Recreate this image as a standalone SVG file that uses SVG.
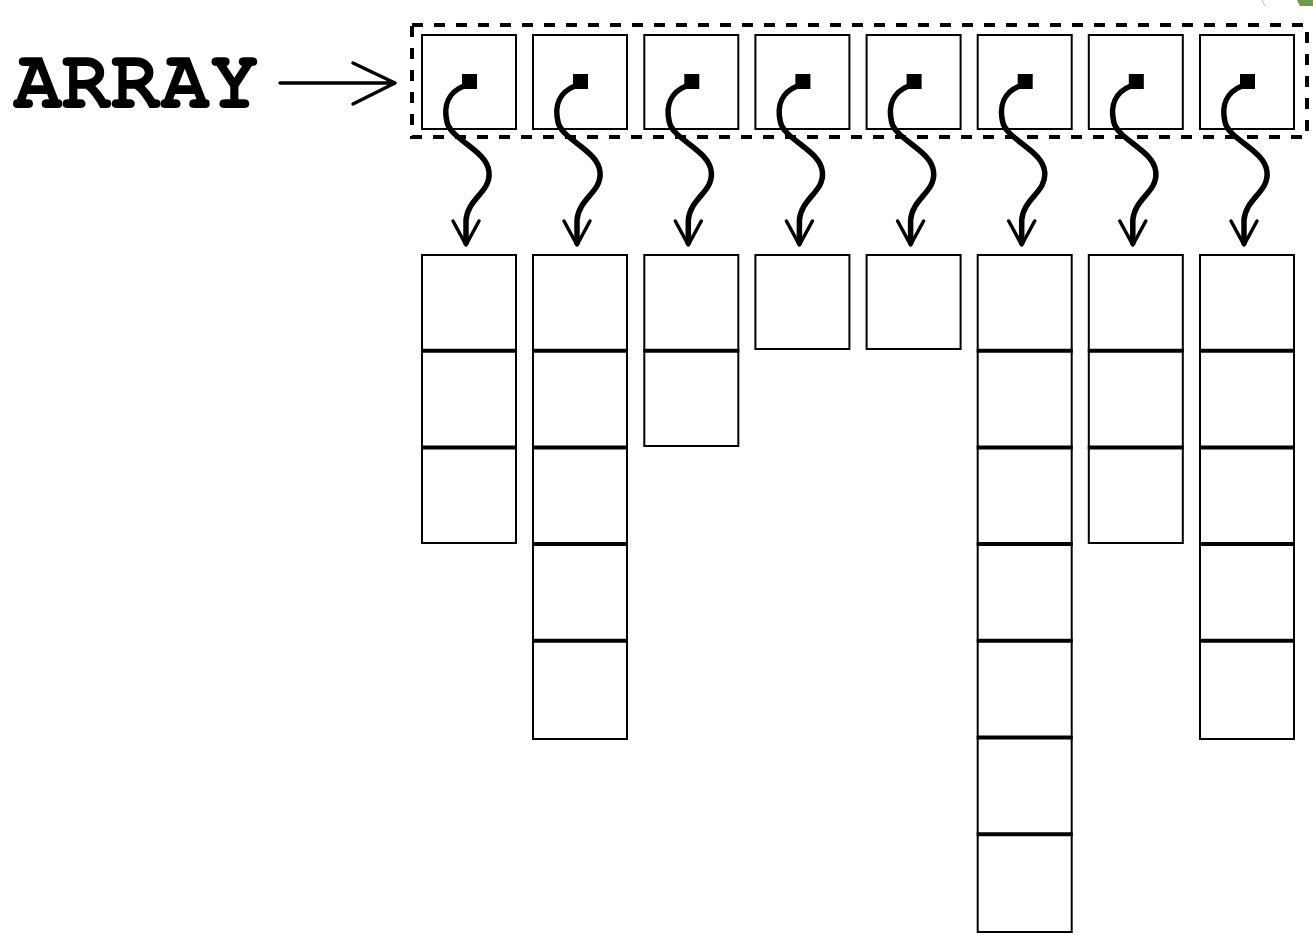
<svg xmlns="http://www.w3.org/2000/svg" width="1313" height="935" viewBox="0 0 1313 935">
<defs>
<style>
.cell{fill:#fff;stroke:#000;stroke-width:2}
.div{stroke:#000;stroke-width:4}
.wire{fill:none;stroke:#000;stroke-width:5.5;stroke-linecap:round}
.head{fill:none;stroke:#000;stroke-width:3.5;stroke-linecap:round;stroke-linejoin:round}
.dot{fill:#000}
</style>
<g id="ptr">
<rect class="cell" x="1" y="35" width="94" height="94"/>
<rect class="dot" x="41" y="74" width="15" height="15"/>
<path class="wire" d="M43,86 C28,92 22,105 26,122 C30,140 66,150 68,172 C70,192 47,198 45,220 L45,243"/>
<path class="head" d="M32,221 L45,245 L58,221"/>
</g>
</defs>
<rect width="1313" height="935" fill="#fff"/>
<path d="M1297,0 L1313,0 L1313,6 L1300,6 Z" fill="#6f9a4c"/>
<path d="M1262,0 Q1263,3 1265,6" fill="none" stroke="#bbb" stroke-width="1"/>
<g id="label">
<text x="13" y="108" font-family="FreeMono, 'Liberation Mono', monospace" font-weight="bold" font-size="86" textLength="246" lengthAdjust="spacingAndGlyphs" fill="#000">ARRAY</text>
</g>
<g id="array">
<rect x="412" y="25" width="895" height="112" fill="none" stroke="#000" stroke-width="4" stroke-dasharray="11 11"/>
</g>
<g id="connectors">
<path d="M280,83 L393,83 M353,63 L395,83 L353,104" class="head"/>
<use href="#ptr" x="421"/>
<use href="#ptr" x="532"/>
<use href="#ptr" x="643.3"/>
<use href="#ptr" x="754.4"/>
<use href="#ptr" x="865.6"/>
<use href="#ptr" x="976.7"/>
<use href="#ptr" x="1087.8"/>
<use href="#ptr" x="1199"/>
</g>
<g id="col1">
<rect class="cell" x="422" y="255" width="94" height="288"/>
<path class="div" d="M421,350.7 H517 M421,447.4 H517"/>
</g>
<g id="col2">
<rect class="cell" x="533" y="255" width="94" height="484"/>
<path class="div" d="M532,350.7 H628 M532,447.4 H628 M532,544 H628 M532,640.8 H628"/>
</g>
<g id="col3">
<rect class="cell" x="644.3" y="255" width="94" height="191"/>
<path class="div" d="M643.3,350.7 H739.3"/>
</g>
<g id="col4">
<rect class="cell" x="755.4" y="255" width="94" height="94"/>
</g>
<g id="col5">
<rect class="cell" x="866.6" y="255" width="94" height="94"/>
</g>
<g id="col6">
<rect class="cell" x="977.7" y="255" width="94" height="677"/>
<path class="div" d="M976.7,350.7 H1072.7 M976.7,447.4 H1072.7 M976.7,544 H1072.7 M976.7,640.8 H1072.7 M976.7,737.5 H1072.7 M976.7,834.2 H1072.7"/>
</g>
<g id="col7">
<rect class="cell" x="1088.8" y="255" width="94" height="288"/>
<path class="div" d="M1087.8,350.7 H1183.8 M1087.8,447.4 H1183.8"/>
</g>
<g id="col8">
<rect class="cell" x="1200" y="255" width="94" height="484"/>
<path class="div" d="M1199,350.7 H1295 M1199,447.4 H1295 M1199,544 H1295 M1199,640.8 H1295"/>
</g>
</svg>
